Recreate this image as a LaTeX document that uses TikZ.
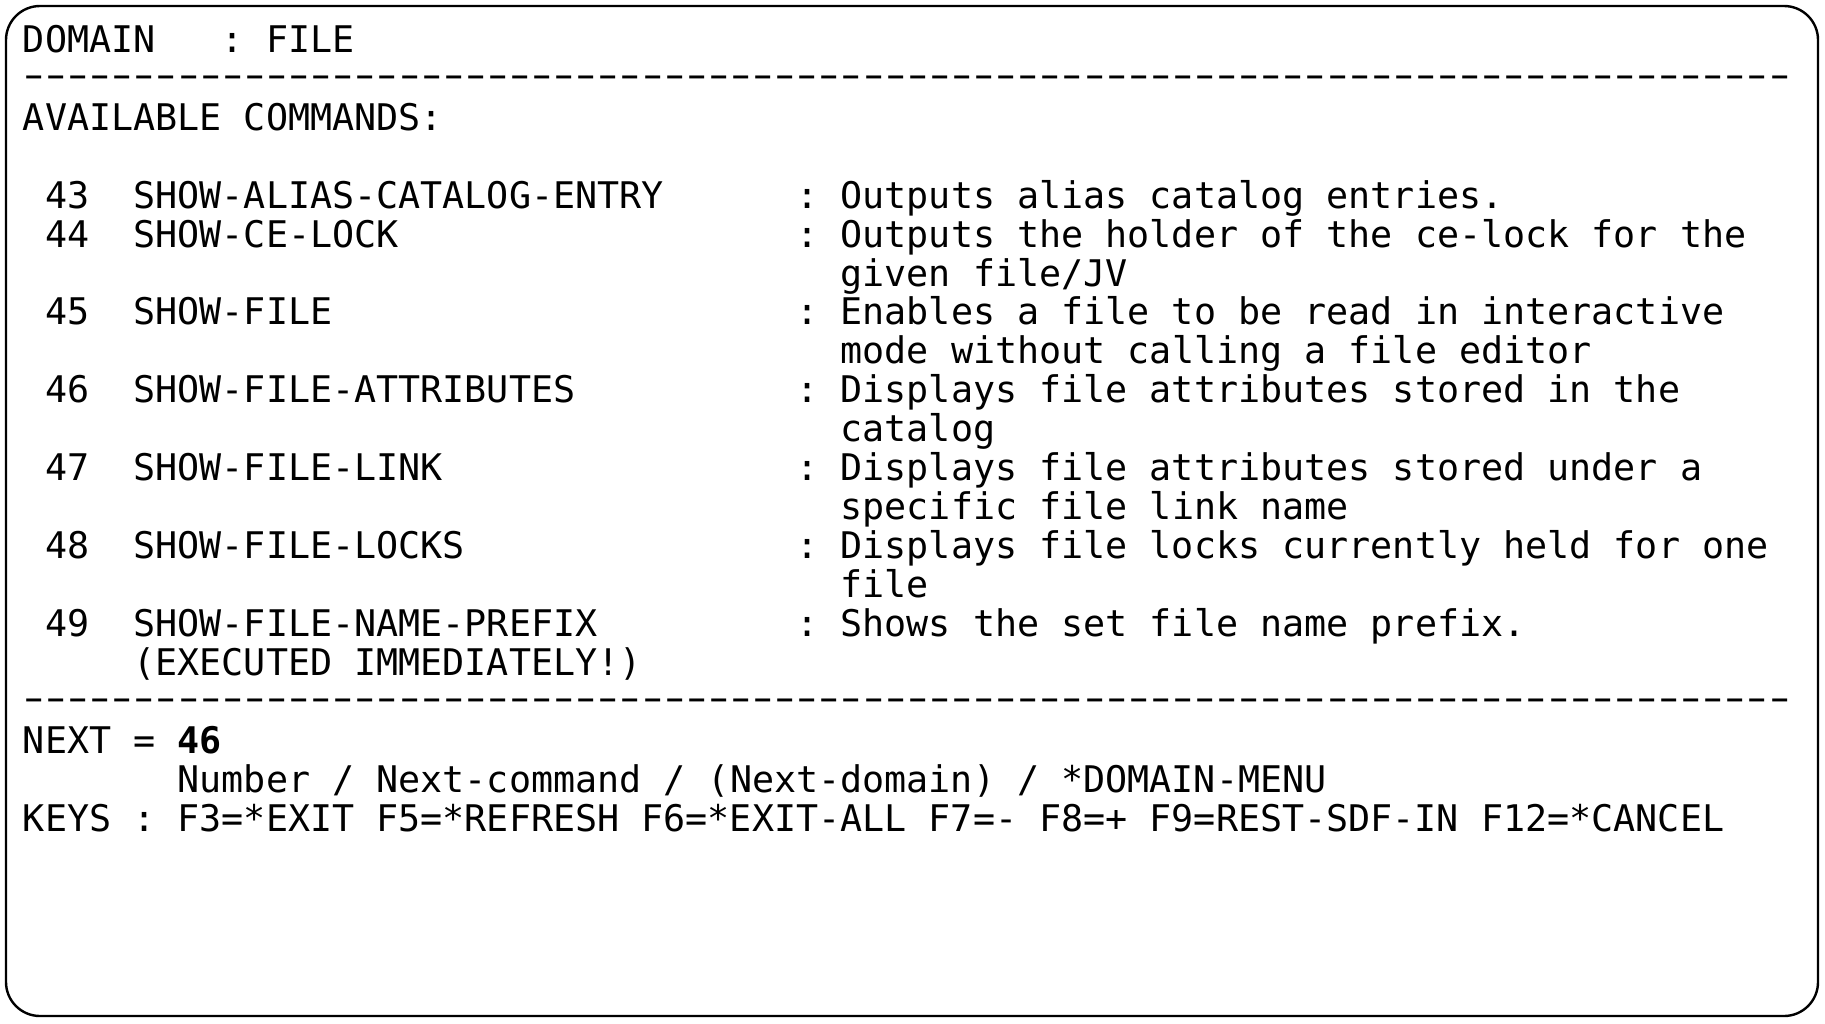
\documentclass[tikz,border=0pt]{standalone}
\usepackage{fontspec}
\usepackage{graphicx}
\setmonofont{DejaVu Sans Mono}
\ExplSyntaxOn
\cs_new:Npn \sepline {\prg_replicate:nn {80} {\makebox[22.097pt][c]{\raisebox{4pt}{\scalebox{1.6}[1]{-}}}}}
\ExplSyntaxOff
\begin{document}
\begin{tikzpicture}[x=1pt,y=-1pt,
  tt/.style={font=\ttfamily\fontsize{36.7}{39}\selectfont\frenchspacing, anchor=base west, inner sep=0pt, outer sep=0pt, text=black},
  frame/.style={draw=black, line width=2.4pt, rounded corners=34pt}]
\useasboundingbox (0,0) rectangle (1825,1023);
\newcommand\tline[4]{\node[tt] (#1) at ({23+22.097*#2},{52.4+38.94*#3}) {#4};}
\draw[frame] (6,6) rectangle (1818,1016);
\tline{dom}{0}{0}{DOMAIN}
\tline{domv}{9}{0}{: FILE}
\tline{sepa}{0}{1}{\sepline}
\tline{avail}{0}{2}{AVAILABLE COMMANDS:}
\tline{n43}{1}{4}{43}
\tline{c43}{5}{4}{SHOW-ALIAS-CATALOG-ENTRY}
\tline{d43}{35}{4}{: Outputs alias catalog entries.}
\tline{n44}{1}{5}{44}
\tline{c44}{5}{5}{SHOW-CE-LOCK}
\tline{d44}{35}{5}{: Outputs the holder of the ce-lock for the}
\tline{e44}{37}{6}{given file/JV}
\tline{n45}{1}{7}{45}
\tline{c45}{5}{7}{SHOW-FILE}
\tline{d45}{35}{7}{: Enables a file to be read in interactive}
\tline{e45}{37}{8}{mode without calling a file editor}
\tline{n46}{1}{9}{46}
\tline{c46}{5}{9}{SHOW-FILE-ATTRIBUTES}
\tline{d46}{35}{9}{: Displays file attributes stored in the}
\tline{e46}{37}{10}{catalog}
\tline{n47}{1}{11}{47}
\tline{c47}{5}{11}{SHOW-FILE-LINK}
\tline{d47}{35}{11}{: Displays file attributes stored under a}
\tline{e47}{37}{12}{specific file link name}
\tline{n48}{1}{13}{48}
\tline{c48}{5}{13}{SHOW-FILE-LOCKS}
\tline{d48}{35}{13}{: Displays file locks currently held for one}
\tline{e48}{37}{14}{file}
\tline{n49}{1}{15}{49}
\tline{c49}{5}{15}{SHOW-FILE-NAME-PREFIX}
\tline{d49}{35}{15}{: Shows the set file name prefix.}
\tline{e49}{5}{16}{(EXECUTED IMMEDIATELY!)}
\tline{sepb}{0}{17}{\sepline}
\tline{next}{0}{18}{NEXT =}
\tline{nextv}{7}{18}{\bfseries 46}
\tline{hint}{7}{19}{Number / Next-command / (Next-domain) / *DOMAIN-MENU}
\tline{keys}{0}{20}{KEYS : F3=*EXIT F5=*REFRESH F6=*EXIT-ALL F7=- F8=+ F9=REST-SDF-IN F12=*CANCEL}
\end{tikzpicture}
\end{document}
